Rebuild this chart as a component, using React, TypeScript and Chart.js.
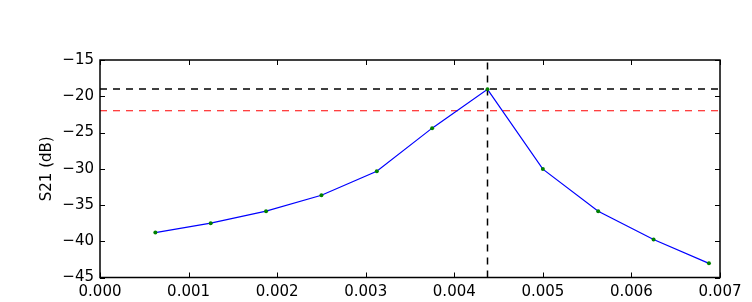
import React, { useEffect, useRef } from "react";
import { Chart, registerables } from "chart.js";

Chart.register(...registerables);

const freqs = [0.000625, 0.00125, 0.001875, 0.0025, 0.003125, 0.00375, 0.004375, 0.005, 0.005625, 0.00625, 0.006875];
const s21 = [-38.8, -37.5, -35.85, -33.65, -30.35, -24.4, -19.05, -30.05, -35.85, -39.75, -43.05];
const peakLevel = -19.0;
const halfPowerLevel = -22.0;
const peakFreq = 0.004375;
const xTicks = [0, 0.001, 0.002, 0.003, 0.004, 0.005, 0.006, 0.007];
const yTicks = [-45, -40, -35, -30, -25, -20, -15];

const frameTicks = {
  id: "frameTicks",
  afterDatasetsDraw(chart: any) {
    const { ctx, chartArea } = chart;
    const { left, right, top, bottom } = chartArea;
    const xs = chart.scales.x;
    const ys = chart.scales.y;
    const len = 5;
    ctx.save();
    ctx.strokeStyle = "#000";
    ctx.lineWidth = 1;
    ctx.beginPath();
    xs.ticks.forEach((t: any) => {
      const px = Math.round(xs.getPixelForValue(t.value)) + 0.5;
      ctx.moveTo(px, bottom);
      ctx.lineTo(px, bottom - len);
      ctx.moveTo(px, top);
      ctx.lineTo(px, top + len);
    });
    ys.ticks.forEach((t: any) => {
      const py = Math.round(ys.getPixelForValue(t.value)) + 0.5;
      ctx.moveTo(left, py);
      ctx.lineTo(left + len, py);
      ctx.moveTo(right, py);
      ctx.lineTo(right - len, py);
    });
    ctx.stroke();
    ctx.lineWidth = 1.5;
    ctx.strokeRect(left, top, right - left, bottom - top);
    ctx.restore();
  },
};

export default function App() {
  const ref = useRef<HTMLCanvasElement | null>(null);
  useEffect(() => {
    document.body.style.margin = "0";
    Chart.defaults.font.family = "DejaVu Sans";
    Chart.defaults.font.size = 15;
    Chart.defaults.color = "#000";
    const minus = (v: number) => String(v).replace("-", "\u2212");
    const chart = new Chart(ref.current as HTMLCanvasElement, {
      type: "scatter",
      data: {
        datasets: [
          {
            data: freqs.map((f, i) => ({ x: f, y: s21[i] })),
            showLine: true,
            borderColor: "#0000ff",
            borderWidth: 1.2,
            pointBackgroundColor: "#008000",
            pointBorderColor: "#008000",
            pointRadius: 2,
            pointBorderWidth: 0,
            order: 0,
          },
          {
            data: [{ x: xTicks[0], y: peakLevel }, { x: xTicks[xTicks.length - 1], y: peakLevel }],
            showLine: true,
            borderColor: "#000",
            borderWidth: 1.5,
            borderDash: [7, 6],
            pointRadius: 0,
            order: 1,
          },
          {
            data: [{ x: xTicks[0], y: halfPowerLevel }, { x: xTicks[xTicks.length - 1], y: halfPowerLevel }],
            showLine: true,
            borderColor: "#ff0000",
            borderWidth: 1,
            borderDash: [7, 6],
            pointRadius: 0,
            order: 1,
          },
          {
            data: [{ x: peakFreq, y: yTicks[0] }, { x: peakFreq, y: yTicks[yTicks.length - 1] }],
            showLine: true,
            borderColor: "#000",
            borderWidth: 1.5,
            borderDash: [7, 6],
            pointRadius: 0,
            order: 1,
          },
        ],
      },
      options: {
        animation: false,
        responsive: true,
        maintainAspectRatio: false,
        layout: { padding: { left: 34, top: 60, right: 32, bottom: 0 } },
        plugins: { legend: { display: false }, tooltip: { enabled: false } },
        scales: {
          x: {
            type: "linear",
            min: 0,
            max: 0.007,
            grid: { display: false, drawTicks: false },
            border: { display: false },
            afterFit: (s: any) => { s.height = 24.5; },
            afterBuildTicks: (s: any) => { s.ticks = xTicks.map((v) => ({ value: v })); },
            ticks: { padding: 6, callback: (v: any) => Number(v).toFixed(3), maxRotation: 0, autoSkip: false },
          },
          y: {
            type: "linear",
            min: -45,
            max: -15,
            grid: { display: false, drawTicks: false },
            border: { display: false },
            afterFit: (s: any) => { s.width = 66; },
            afterBuildTicks: (s: any) => { s.ticks = yTicks.map((v) => ({ value: v })); },
            ticks: { padding: 6, callback: (v: any) => minus(Number(v)), autoSkip: false },
            title: { display: true, text: "S21 (dB)", font: { size: 15 }, padding: { top: 4, bottom: 4 } },
          },
        },
      },
      plugins: [frameTicks],
    });
    return () => chart.destroy();
  }, []);
  return (
    <div style={{ width: 752, height: 302, position: "relative" }}>
      <canvas ref={ref} />
    </div>
  );
}
